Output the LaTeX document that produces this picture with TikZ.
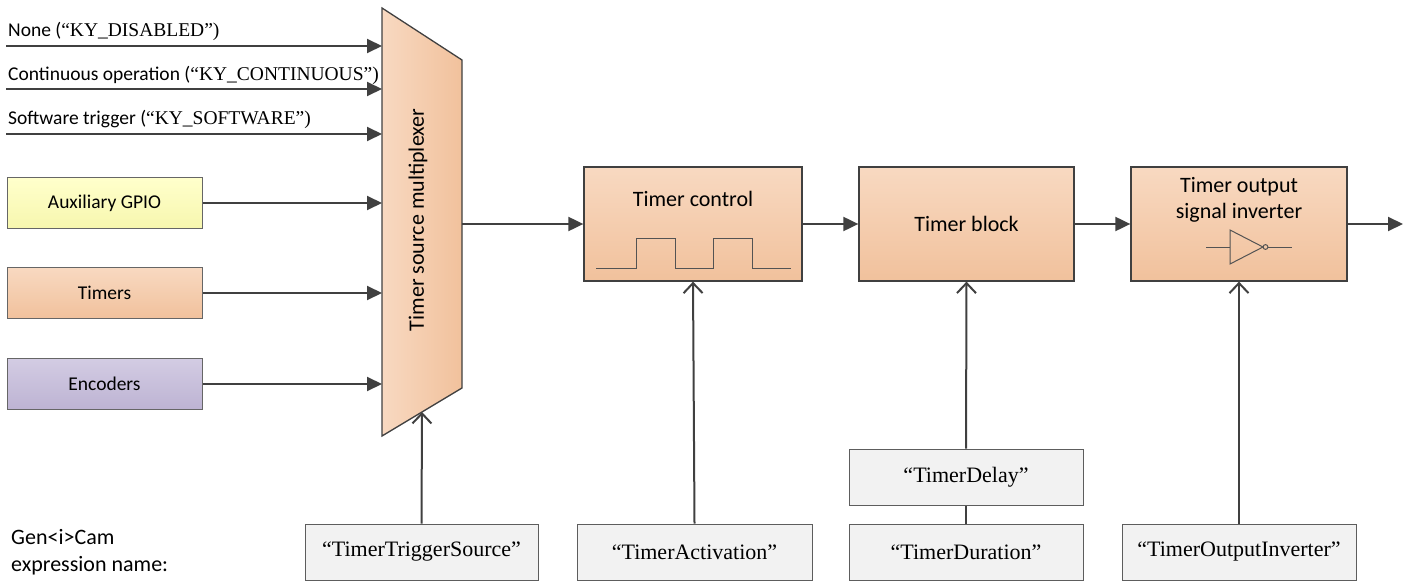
\documentclass[tikz,border=0pt]{standalone}
\usepackage{fontspec}
\setmainfont{Liberation Serif}
\newfontfamily\calib{Carlito}
\usetikzlibrary{arrows.meta}
\definecolor{ln}{HTML}{404040}
\definecolor{orT}{HTML}{F8D9C1}
\definecolor{orB}{HTML}{F1C19C}
\definecolor{yeT}{HTML}{FFFFCC}
\definecolor{yeB}{HTML}{F7F7AE}
\definecolor{puT}{HTML}{D3CCE3}
\definecolor{puB}{HTML}{BDB3D3}
\definecolor{gb}{HTML}{F2F2F2}
\tikzset{
  sidebox/.style={draw=ln!80, line width=1pt, minimum width=195pt, minimum height=51pt, inner sep=0pt, font=\calib\fontsize{19.5}{23}\selectfont},
  blockbox/.style={draw=ln, line width=1.3pt, top color=orT, bottom color=orB, minimum width=216pt, minimum height=114pt, inner sep=0pt, font=\calib\fontsize{22}{26}\selectfont, align=center},
  exprbox/.style={draw=ln!85, line width=1pt, fill=gb, minimum width=234pt, minimum height=56pt, inner sep=0pt, font=\fontsize{22}{26}\selectfont},
  fwd/.style={draw=ln, line width=2pt, -{Triangle[length=15pt,width=14pt]}},
  upar/.style={draw=ln, line width=2pt, -{Straight Barb[length=10pt,width=19pt]}},
  plain/.style={draw=ln, line width=2pt},
  toplbl/.style={anchor=west, inner sep=0pt, font=\fontsize{19.5}{23}\selectfont},
  sym/.style={draw=ln!90, line width=1pt},
}
\begin{document}
\begin{tikzpicture}[x=1pt,y=-1pt]
\useasboundingbox (0,0) rectangle (1413,583);

% multiplexer
\path[draw=ln, line width=1.3pt, left color=orT, right color=orB]
  (382,8) -- (462,60) -- (462,388) -- (382,436) -- cycle;
\node[rotate=90, font=\calib\fontsize{22}{26}\selectfont, inner sep=0pt] (muxlbl) at (418,220) {Timer source multiplexer};
\coordinate (mA) at (382,46);
\coordinate (mB) at (382,89);
\coordinate (mC) at (382,134);
\coordinate (mD) at (382,203);
\coordinate (mE) at (382,293);
\coordinate (mF) at (382,384);
\coordinate (mOut) at (462,224);
\coordinate (mBot) at (422,412);

% top inputs
\coordinate (iA) at (6,46);
\coordinate (iB) at (6,89);
\coordinate (iC) at (6,134);
\node[toplbl] (lA) at (8,31) {{\calib None (}“KY\_DISABLED”)};
\node[toplbl] (lB) at (8,75) {{\calib Continuous operation (}“KY\_CONTINUOUS”)};
\node[toplbl] (lC) at (8,119) {{\calib Software trigger (}“KY\_SOFTWARE”)};
\draw[fwd] (iA) -- (mA);
\draw[fwd] (iB) -- (mB);
\draw[fwd] (iC) -- (mC);

% side boxes
\node[sidebox, top color=yeT, bottom color=yeB] (aux) at (104.5,203) {Auxiliary GPIO};
\node[sidebox, top color=orT, bottom color=orB] (tim) at (104.5,293) {Timers};
\node[sidebox, top color=puT, bottom color=puB] (enc) at (104.5,384) {Encoders};
\draw[fwd] (aux.east) -- (mD);
\draw[fwd] (tim.east) -- (mE);
\draw[fwd] (enc.east) -- (mF);

% main blocks
\node[blockbox, minimum width=218pt] (ctrl) at (693,224) {};
\node[font=\calib\fontsize{22}{26}\selectfont, inner sep=0pt] (ctrllbl) at (693,199) {Timer control};
\draw[sym] (596,268) -- (636,268) -- (636,238) -- (675,238) -- (675,268) -- (713,268) -- (713,238) -- (752,238) -- (752,268) -- (791,268);

\node[blockbox, minimum width=215pt] (blk) at (966.5,224) {Timer block};

\node[blockbox] (inv) at (1239,224) {};
\node[font=\calib\fontsize{22}{26}\selectfont, inner sep=0pt, align=center] (invlbl) at (1239,200) {Timer output\\[-0.5pt]signal inverter};
\draw[sym] (1206,247) -- (1230,247);
\draw[sym] (1230,230) -- (1263,247) -- (1230,264) -- cycle;
\draw[sym] (1265.5,247) circle[radius=2.4pt];
\draw[sym] (1268,247) -- (1292,247);
\coordinate (outEnd) at (1403,224);

\draw[fwd] (mOut) -- (ctrl.west);
\draw[fwd] (ctrl.east) -- (blk.west);
\draw[fwd] (blk.east) -- (inv.west);
\draw[fwd] (inv.east) -- (outEnd);

% expression boxes
\node[exprbox, minimum width=233pt] (src) at (421.5,552) {“TimerTriggerSource”};
\node[exprbox, minimum width=235pt] (act) at (694.5,552) {“TimerActivation”};
\node[exprbox] (dly) at (966,477) {“TimerDelay”};
\node[exprbox] (dur) at (966,552) {“TimerDuration”};
\node[exprbox] (oinv) at (1239,552) {“TimerOutputInverter”};

\draw[upar] (src.north) -- (mBot);
\draw[upar] (act.north) -- (ctrl.south);
\draw[upar] (dly.north) -- (blk.south);
\draw[plain] (dur.north) -- (dly.south);
\draw[upar] (oinv.north) -- (inv.south);

\node[anchor=west, align=left, inner sep=0pt, font=\calib\fontsize{22}{27}\selectfont] (gen) at (11,552) {Gen<i>Cam\\expression name:};
\end{tikzpicture}
\end{document}
